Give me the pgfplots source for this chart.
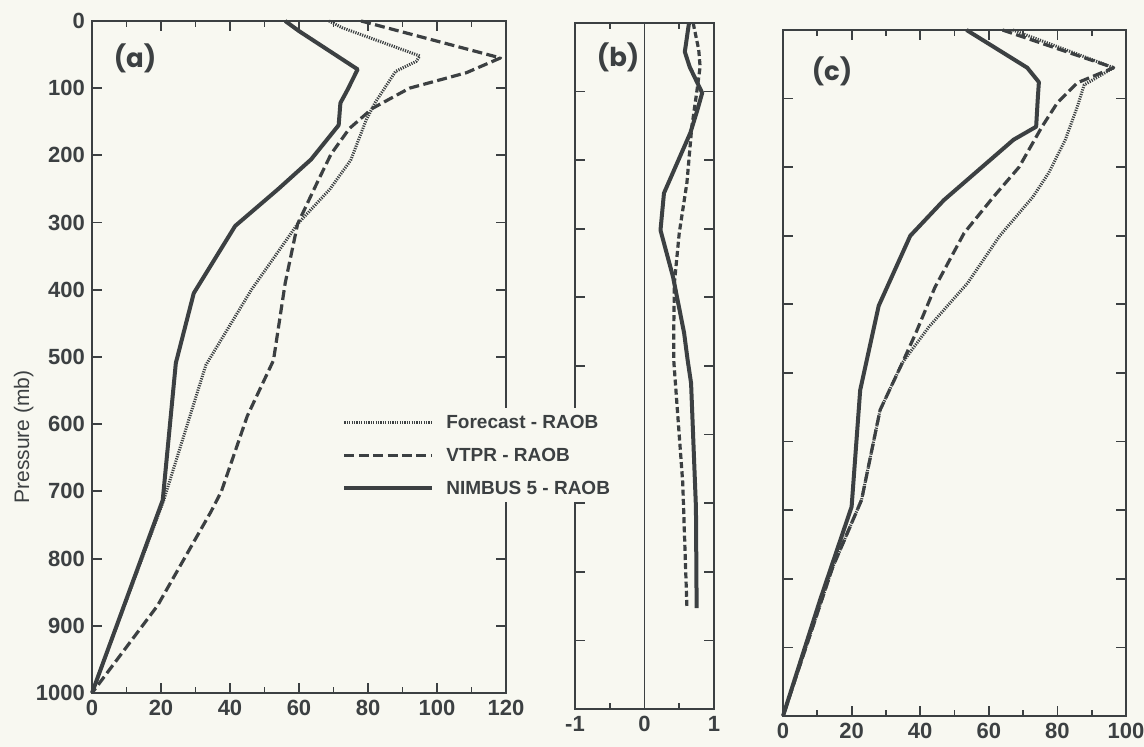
\documentclass[border=0pt]{standalone}
\usepackage{fontspec}
\setmainfont{Liberation Sans}
\newfontfamily\panelfont{Poppins}
\usepackage{pgfplots}
\pgfplotsset{compat=1.18}

\definecolor{ink}{RGB}{60,64,66}
\definecolor{paper}{RGB}{248,248,241}

\tikzset{
  nimbus/.style={ink, line width=2pt, line join=round},
  vtpr/.style={ink, line width=1.6pt, line join=round, dash pattern=on 5pt off 2.2pt},
  fcst/.style={ink, line width=1.5pt, line join=round, dash pattern=on 0.6pt off 0.6pt},
  plabel/.style={font=\panelfont\bfseries\fontsize{13}{15}\selectfont, text=ink},
}
\pgfplotsset{
  prof/.style={
    scale only axis,
    clip=false,
    y dir=reverse, ymin=0, ymax=1000,
    ytick={0,100,...,1000},
    axis line style={ink, line width=1pt},
    every tick/.style={ink, line width=0.9pt},
    tick align=inside,
    major tick length=5pt, minor tick length=3pt,
    tick label style={font=\bfseries\fontsize{11}{13}\selectfont, text=ink},
    /pgf/number format/assume math mode=true,
    /pgf/number format/1000 sep={},
  },
}

\begin{document}
\begin{tikzpicture}
\path[use as bounding box, fill=paper] (0,0) rectangle (572pt,373.5pt);

% (b) differences
\begin{axis}[prof, at={(287.5pt,19pt)}, anchor=south west,
    width=69.5pt, height=343pt,
    xmin=-1, xmax=1, xtick={-1,0,1}, minor xtick={-0.5,0.5},
    yticklabels={}]
  \addplot[ink, line width=0.5pt] coordinates {(0,0) (0,1000)};
  \addplot[nimbus] coordinates {
    (0.64,0) (0.58,42) (0.65,64) (0.83,102) (0.76,127) (0.66,160)
    (0.28,248) (0.23,302) (0.41,370) (0.57,452) (0.62,491) (0.67,525)
    (0.74,706) (0.75,853)};
  \addplot[ink, line width=1.6pt, dash pattern=on 3pt off 1.6pt] coordinates {
    (0.70,0) (0.78,39) (0.80,64) (0.75,102) (0.68,152) (0.61,233)
    (0.50,306) (0.43,379) (0.42,452) (0.42,491) (0.48,574) (0.55,670)
    (0.61,851)};
  \node[plabel] at (axis description cs:0.31,0.95) {(b)};
\end{axis}

% (c)
\begin{axis}[prof, at={(391.5pt,15.5pt)}, anchor=south west,
    width=171.5pt, height=343pt,
    xmin=0, xmax=100, xtick={0,20,...,100}, minor x tick num=1,
    yticklabels={}]
  \addplot[fcst] coordinates {
    (67,0) (96.4,55) (87.8,80) (85.8,112) (82.3,160) (77.5,208) (72.9,243)
    (63.2,300) (53.8,369) (42.5,433) (34.8,485) (28.3,554) (22.9,685)
    (14.5,783) (0,1000)};
  \addplot[vtpr] coordinates {
    (64,0) (96.4,55) (85.8,77) (80,106) (75.5,141) (68.8,200) (61.4,243)
    (52.8,296) (44.3,375) (38.7,442) (34.8,485) (28.3,554) (22.9,685)
    (14.5,783) (0,1000)};
  \addplot[nimbus] coordinates {
    (53.5,0) (71.2,55) (74.6,76) (74.3,98) (73.8,141) (67.2,160)
    (46.9,248) (37.1,300) (27.9,402) (22.5,525) (20,695) (10.8,831) (0,1000)};
  \node[plabel] at (axis description cs:0.143,0.939) {(c)};
\end{axis}

% (a)
\begin{axis}[prof, at={(46pt,27pt)}, anchor=south west,
    width=207pt, height=336pt,
    xmin=0, xmax=120, xtick={0,20,...,120}, minor x tick num=1,
    ylabel={Pressure (mb)},
    ylabel style={font=\fontsize{10.5}{12}\selectfont, text=ink,
      at={(axis description cs:-0.165,0.381)}, anchor=center},
    legend cell align=left,
    legend image code/.code={\draw[#1] (0pt,0pt) -- (44pt,0pt);},
    legend style={at={(axis description cs:0.599,0.424)}, anchor=north west,
      draw=none, fill=paper, inner sep=1pt, row sep=4.5pt,
      font=\bfseries\fontsize{9.5}{11}\selectfont, text=ink,
      nodes={inner sep=1pt, text height=8pt, text depth=2pt},
      /tikz/every odd column/.append style={column sep=5pt}}]
  \addplot[fcst] coordinates {
    (68.7,0) (72.5,10) (95,52) (94,60) (88,75) (82,122) (79.5,147)
    (75,207) (69,250) (59.6,302) (46.2,400) (33,512)
    (20.8,713) (0,1000)};
  \addlegendentry{Forecast - RAOB}
  \addplot[vtpr] coordinates {
    (78,0) (118.4,55) (108.5,77) (92,100) (81.3,130) (74.6,160) (69.3,198)
    (65.5,238) (59.6,302) (56,390) (52.6,505) (45,588) (37.5,700)
    (34.5,730) (19,870) (0,1000)};
  \addlegendentry{VTPR - RAOB}
  \addplot[nimbus] coordinates {
    (56,0) (60,15) (77,72) (74,103) (72,122) (71.5,155) (63.5,206)
    (54,250) (41.5,305) (29.5,405) (24.3,509) (20.5,713) (0,1000)};
  \addlegendentry{NIMBUS 5 - RAOB}
  \node[plabel] at (axis description cs:0.104,0.945) {(a)};
\end{axis}
\end{tikzpicture}
\end{document}
